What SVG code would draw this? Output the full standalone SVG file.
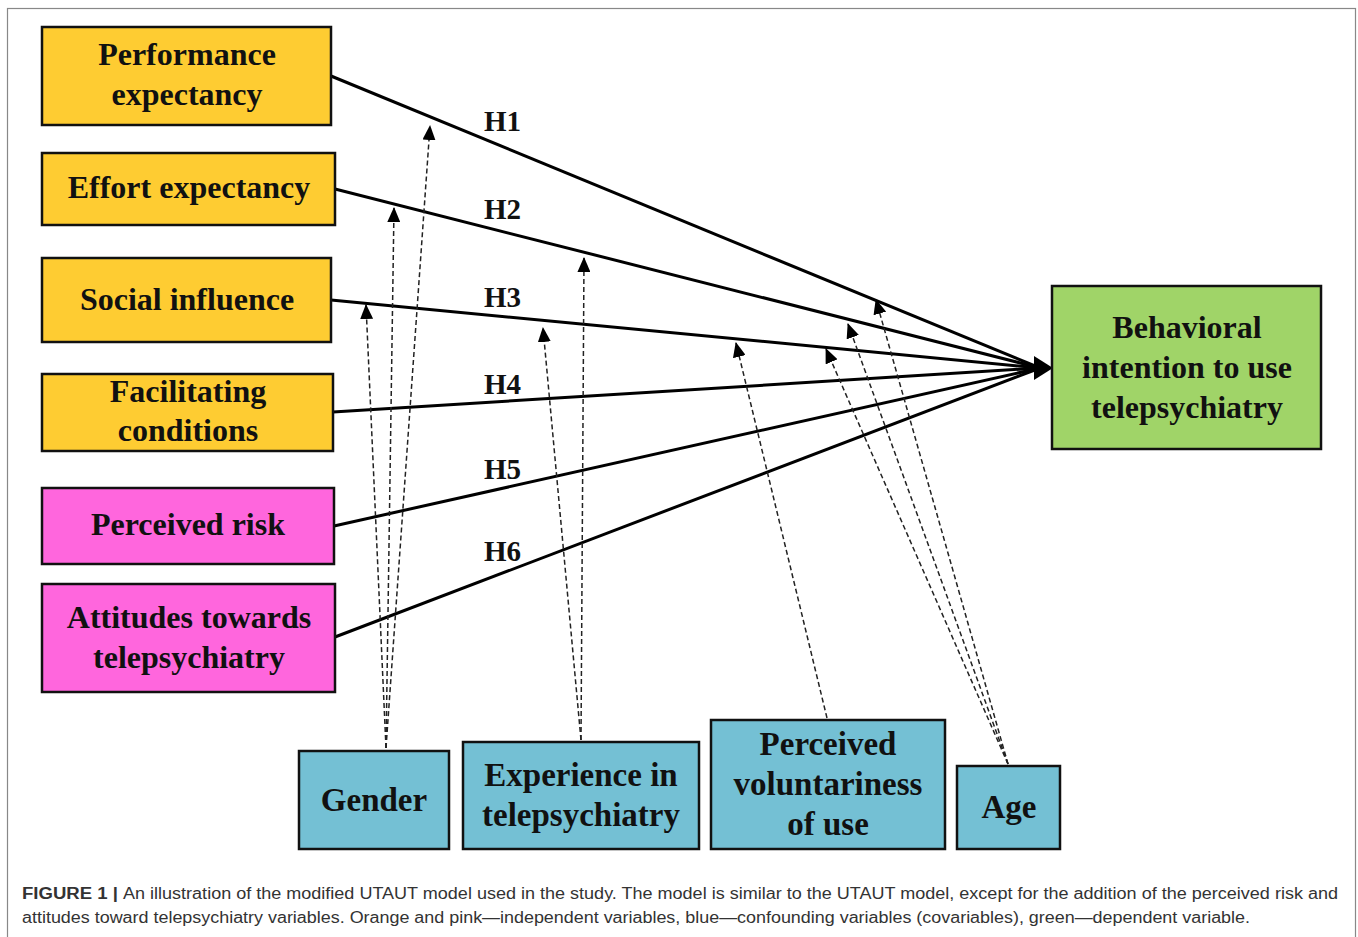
<svg xmlns="http://www.w3.org/2000/svg" width="1358" height="937" viewBox="0 0 1358 937">
<style>
.box{stroke:#111;stroke-width:2.5}
.or{fill:#FECC32}
.pk{fill:#FF66DD}
.gr{fill:#A0D468}
.bl{fill:#74C0D4}
.lbl{font-family:"Liberation Serif","Times New Roman",serif;font-weight:bold;font-size:32px;fill:#111;text-anchor:middle}
.blbl{font-family:"Liberation Serif","Times New Roman",serif;font-weight:bold;font-size:33px;fill:#111;text-anchor:middle}
.h{font-family:"Liberation Serif","Times New Roman",serif;font-weight:bold;font-size:29px;fill:#111}
.main{stroke:#000;stroke-width:3;fill:none}
.dash{stroke:#222;stroke-width:1.5;stroke-dasharray:5,3;fill:none}
.cap{font-family:"Liberation Sans",Arial,sans-serif;font-size:16px;fill:#333}
</style>
<defs>
<marker id="tri" markerUnits="userSpaceOnUse" markerWidth="15" markerHeight="13" refX="14" refY="6.5" orient="auto" viewBox="0 0 15 13">
<path d="M0,0 L15,6.5 L0,13 Z" fill="#000"/>
</marker>
</defs>
<rect x="0" y="0" width="1358" height="937" fill="#fff"/>
<rect x="7.5" y="8.5" width="1348" height="940" fill="none" stroke="#888" stroke-width="1.2"/>

<g id="connectors">
<line class="main" x1="331" y1="76" x2="1040" y2="368"/>
<line class="main" x1="335" y1="189" x2="1040" y2="368"/>
<line class="main" x1="331" y1="300" x2="1040" y2="368"/>
<line class="main" x1="333" y1="412" x2="1040" y2="368"/>
<line class="main" x1="334" y1="526" x2="1040" y2="368"/>
<line class="main" x1="335" y1="637" x2="1040" y2="368"/>
<path d="M1034,356 L1053,368 L1034,380 Z" fill="#000"/>
<text class="h" x="484" y="131">H1</text>
<text class="h" x="484" y="219">H2</text>
<text class="h" x="484" y="307">H3</text>
<text class="h" x="484" y="394">H4</text>
<text class="h" x="484" y="479">H5</text>
<text class="h" x="484" y="561">H6</text>
<line class="dash" x1="386" y1="748" x2="430" y2="126" marker-end="url(#tri)"/>
<line class="dash" x1="386" y1="748" x2="394" y2="208" marker-end="url(#tri)"/>
<line class="dash" x1="386" y1="748" x2="366" y2="305" marker-end="url(#tri)"/>
<line class="dash" x1="581" y1="740" x2="584" y2="258" marker-end="url(#tri)"/>
<line class="dash" x1="581" y1="740" x2="543" y2="328" marker-end="url(#tri)"/>
<line class="dash" x1="827" y1="718" x2="736" y2="343" marker-end="url(#tri)"/>
<line class="dash" x1="1008" y1="764" x2="876" y2="300" marker-end="url(#tri)"/>
<line class="dash" x1="1008" y1="764" x2="848" y2="324" marker-end="url(#tri)"/>
<line class="dash" x1="1008" y1="764" x2="826" y2="349" marker-end="url(#tri)"/>
</g>

<g id="performance-expectancy">
<rect class="box or" x="42" y="27" width="289" height="98"/>
<text class="lbl" x="187" y="65">Performance</text>
<text class="lbl" x="187" y="105">expectancy</text>
</g>
<g id="effort-expectancy">
<rect class="box or" x="42" y="153" width="293" height="72"/>
<text class="lbl" x="189" y="198">Effort expectancy</text>
</g>
<g id="social-influence">
<rect class="box or" x="42" y="258" width="289" height="84"/>
<text class="lbl" x="187" y="310">Social influence</text>
</g>
<g id="facilitating-conditions">
<rect class="box or" x="42" y="374" width="291" height="77"/>
<text class="lbl" x="188" y="402">Facilitating</text>
<text class="lbl" x="188" y="441">conditions</text>
</g>
<g id="perceived-risk">
<rect class="box pk" x="42" y="488" width="292" height="76"/>
<text class="lbl" x="188" y="535">Perceived risk</text>
</g>
<g id="attitudes">
<rect class="box pk" x="42" y="584" width="293" height="108"/>
<text class="lbl" x="189" y="628">Attitudes towards</text>
<text class="lbl" x="189" y="668">telepsychiatry</text>
</g>
<g id="behavioral-intention">
<rect class="box gr" x="1052" y="286" width="269" height="163"/>
<text class="lbl" x="1187" y="338">Behavioral</text>
<text class="lbl" x="1187" y="378">intention to use</text>
<text class="lbl" x="1187" y="418">telepsychiatry</text>
</g>
<g id="gender">
<rect class="box bl" x="299" y="751" width="150" height="98"/>
<text class="blbl" x="374" y="811">Gender</text>
</g>
<g id="experience">
<rect class="box bl" x="463" y="742" width="236" height="107"/>
<text class="blbl" x="581" y="786">Experience in</text>
<text class="blbl" x="581" y="826">telepsychiatry</text>
</g>
<g id="voluntariness">
<rect class="box bl" x="711" y="720" width="234" height="129"/>
<text class="blbl" x="828" y="755">Perceived</text>
<text class="blbl" x="828" y="795">voluntariness</text>
<text class="blbl" x="828" y="835">of use</text>
</g>
<g id="age">
<rect class="box bl" x="957" y="766" width="103" height="83"/>
<text class="blbl" x="1009" y="818">Age</text>
</g>

<g id="caption">
<text class="cap" x="22" y="899" font-weight="bold" textLength="96" lengthAdjust="spacingAndGlyphs">FIGURE 1 |</text>
<text class="cap" x="123" y="899" textLength="1215" lengthAdjust="spacingAndGlyphs">An illustration of the modified UTAUT model used in the study. The model is similar to the UTAUT model, except for the addition of the perceived risk and</text>
<text class="cap" x="22" y="923" textLength="1228" lengthAdjust="spacingAndGlyphs">attitudes toward telepsychiatry variables. Orange and pink—independent variables, blue—confounding variables (covariables), green—dependent variable.</text>
</g>
</svg>
